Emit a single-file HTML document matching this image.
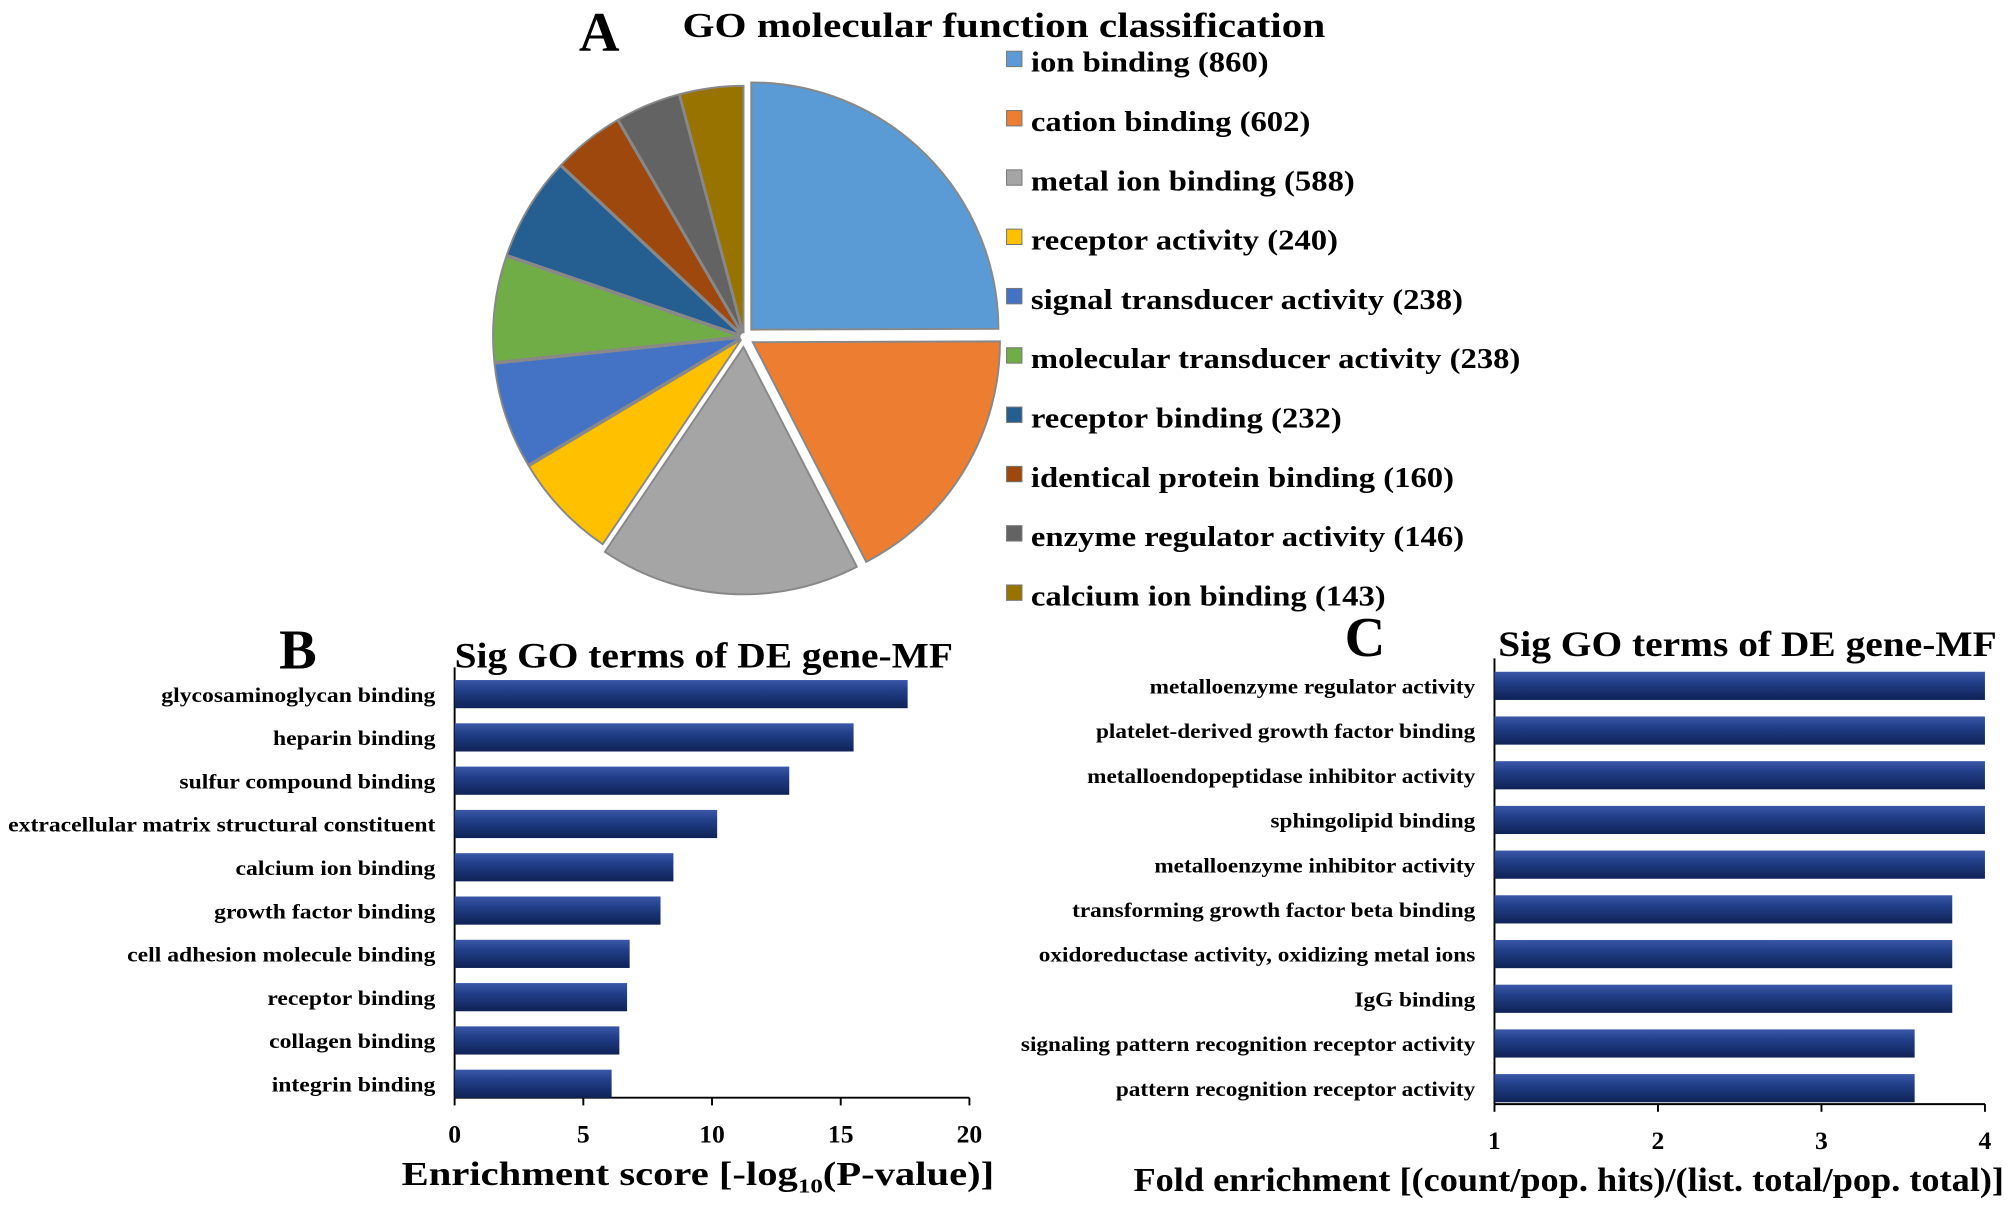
<!DOCTYPE html>
<html><head><meta charset="utf-8"><style>
html,body{margin:0;padding:0;background:#fff;}
svg{display:block;font-family:"Liberation Serif",serif;font-weight:bold;}
</style></head><body>
<svg id="fig" width="2008" height="1213" viewBox="0 0 1568 947" preserveAspectRatio="none" xmlns="http://www.w3.org/2000/svg">
<defs>
<linearGradient id="barg" x1="0" y1="0" x2="0" y2="1">
<stop offset="0" stop-color="#3a58a8"/><stop offset="0.35" stop-color="#22408a"/><stop offset="1" stop-color="#0f2256"/>
</linearGradient>
</defs>
<text x="452" y="40" font-size="44">A</text>
<text id="pt" x="533" y="29" font-size="27">GO molecular function classification</text>
<text x="218" y="522" font-size="44">B</text>
<text id="bt" x="355" y="521" font-size="28">Sig GO terms of DE gene-MF</text>
<text x="1050" y="512" font-size="44">C</text>
<text id="ct" x="1170" y="512" font-size="28">Sig GO terms of DE gene-MF</text>
<g id="pie"></g><g id="legend"></g><g id="chartB"></g><g id="chartC"></g>
</svg>
<script>
const NS="http://www.w3.org/2000/svg";
const pieLabels=["ion binding","cation binding","metal ion binding","receptor activity","signal transducer activity","molecular transducer activity","receptor binding","identical protein binding","enzyme regulator activity","calcium ion binding"];
const pieValues=[860,602,588,240,238,238,232,160,146,143];
const pieColors=["#5b9bd5","#ed7d31","#a5a5a5","#ffc000","#4472c4","#70ad47","#255e91","#9e480e","#636363","#997300"];
const bLabels=["glycosaminoglycan binding","heparin binding","sulfur compound binding","extracellular matrix structural constituent","calcium ion binding","growth factor binding","cell adhesion molecule binding","receptor binding","collagen binding","integrin binding"];
const bValues=[17.6,15.5,13.0,10.2,8.5,8.0,6.8,6.7,6.4,6.1];
const bTicks=[0,5,10,15,20];
const cLabels=["metalloenzyme regulator activity","platelet-derived growth factor binding","metalloendopeptidase inhibitor activity","sphingolipid binding","metalloenzyme inhibitor activity","transforming growth factor beta binding","oxidoreductase activity, oxidizing metal ions","IgG binding","signaling pattern recognition receptor activity","pattern recognition receptor activity"];
const cValues=[4,4,4,4,4,3.8,3.8,3.8,3.57,3.57];
const cTicks=[1,2,3,4];

function mk(tag,attrs,parent,txt){const e=document.createElementNS(NS,tag);for(const k in attrs)e.setAttribute(k,attrs[k]);if(txt!==undefined)e.textContent=txt;parent.appendChild(e);return e;}
function stretch(t,f){const l=t.getComputedTextLength();t.setAttribute('textLength',l*f);t.setAttribute('lengthAdjust','spacingAndGlyphs');}

stretch(document.getElementById('pt'),1.19);
stretch(document.getElementById('bt'),1.1);
stretch(document.getElementById('ct'),1.1);

const pie=document.getElementById('pie');
const cx=581,cy=263,R=193;
const total=pieValues.reduce((a,b)=>a+b,0);
let ang=0;
pieValues.forEach((v,i)=>{
  const a0=ang,a1=ang+v/total*2*Math.PI;ang=a1;
  const mid=(a0+a1)/2;const off=(i<3)?8:3;
  const ox=cx+off*Math.sin(mid),oy=cy-off*Math.cos(mid);
  const x0=ox+R*Math.sin(a0),y0=oy-R*Math.cos(a0),x1=ox+R*Math.sin(a1),y1=oy-R*Math.cos(a1);
  const large=(a1-a0)>Math.PI?1:0;
  const p=mk('path',{d:`M${ox},${oy}L${x0},${y0}A${R},${R} 0 ${large} 1 ${x1},${y1}Z`,fill:pieColors[i],stroke:'#888','stroke-width':1.5},pie);
  
  
});
const lg=document.getElementById('legend');
pieLabels.forEach((l,i)=>{
  const y=48+i*46.3;
  const r=mk('rect',{x:786,y:y-8,width:12,height:12,fill:pieColors[i],stroke:'#777','stroke-width':0.8},lg);
  
  
  const t=mk('text',{x:805,y:y+8,'font-size':22},lg,l+' ('+pieValues[i]+')');
  
  
  stretch(t,1.16);
});

function bar(gid,labels,values,ticks,x0,x1,vmin,vmax,yTop,step,axisY,labelX,title,titleX,name,lf,tf){
  const g=document.getElementById(gid);
  const sx=v=>x0+(v-vmin)/(vmax-vmin)*(x1-x0);
  mk('line',{x1:x0,y1:yTop-4,x2:x0,y2:axisY,stroke:'#000','stroke-width':1.5},g);
  const ax=mk('line',{x1:x0,y1:axisY,x2:x1,y2:axisY,stroke:'#000','stroke-width':1.5},g);
  
  
  ticks.forEach(t=>{
    mk('line',{x1:sx(t),y1:axisY,x2:sx(t),y2:axisY+6,stroke:'#000','stroke-width':1.5},g);
    const tt=mk('text',{x:sx(t),y:axisY+35,'font-size':20,'text-anchor':'middle'},g,t);
    
    
  });
  labels.forEach((l,i)=>{
    const yc=yTop+step/2+i*step;
    const r=mk('rect',{x:x0,y:yc-11,width:sx(values[i])-x0,height:22,fill:'url(#barg)'},g);
    
    
    const t=mk('text',{x:labelX,y:yc+6,'font-size':16.5,'text-anchor':'end'},g,l);
    
    
    stretch(t,lf);
  });
  const tt=mk('text',{x:titleX,y:axisY+68,'font-size':26,'text-anchor':'middle'},g);
  tt.innerHTML=title;
  
  
  stretch(tt,tf);
}
bar('chartB',bLabels,bValues,bTicks,355,757,0,20,525,33.8,857,340,'Enrichment score [-log<tspan font-size="16" dy="6">10</tspan><tspan dy="-6">(P-value)]</tspan>',545,'chart-b',1.12,1.22);
bar('chartC',cLabels,cValues,cTicks,1167,1550,1,4,518,34.9,862,1152,'Fold enrichment [(count/pop. hits)/(list. total/pop. total)]',1225,'chart-c',1.1,1.09);
</script>
</body></html>
